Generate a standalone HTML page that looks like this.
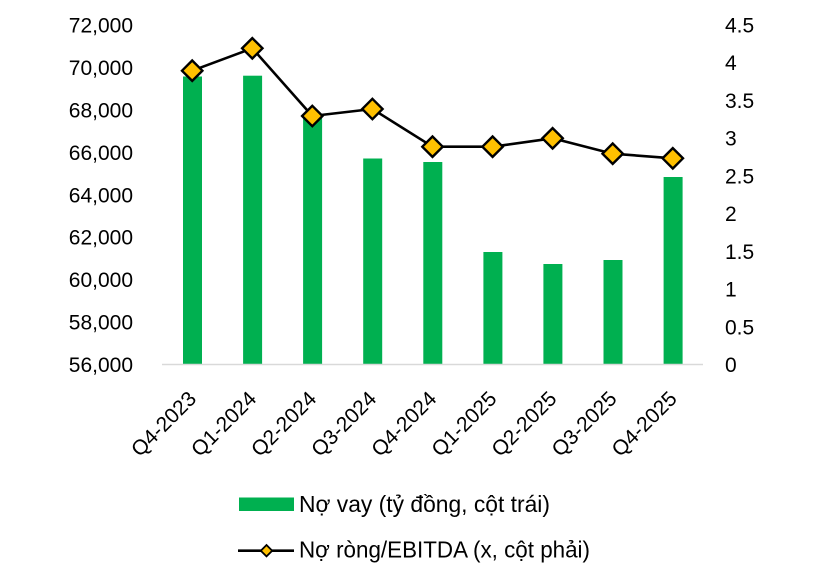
<!DOCTYPE html>
<html>
<head>
<meta charset="utf-8">
<style>
  html, body { margin: 0; padding: 0; background: #ffffff; }
  svg { display: block; }
  text { font-family: "Liberation Sans", "Noto Sans CJK SC", sans-serif; fill: #000; }
</style>
</head>
<body>
<svg width="827" height="574" viewBox="0 0 827 574" xmlns="http://www.w3.org/2000/svg">
  <rect x="0" y="0" width="827" height="574" fill="#ffffff"/>

  <!-- Left axis labels -->
  <g font-size="21" text-anchor="end">
    <text x="133" y="32.5">72,000</text>
    <text x="133" y="74.9">70,000</text>
    <text x="133" y="117.4">68,000</text>
    <text x="133" y="159.8">66,000</text>
    <text x="133" y="202.3">64,000</text>
    <text x="133" y="244.7">62,000</text>
    <text x="133" y="287.1">60,000</text>
    <text x="133" y="329.6">58,000</text>
    <text x="133" y="372.0">56,000</text>
  </g>

  <!-- Right axis labels -->
  <g font-size="21" text-anchor="start">
    <text x="725" y="32.5">4.5</text>
    <text x="725" y="70.2">4</text>
    <text x="725" y="107.9">3.5</text>
    <text x="725" y="145.7">3</text>
    <text x="725" y="183.4">2.5</text>
    <text x="725" y="221.1">2</text>
    <text x="725" y="258.8">1.5</text>
    <text x="725" y="296.5">1</text>
    <text x="725" y="334.3">0.5</text>
    <text x="725" y="372.0">0</text>
  </g>

  <!-- Bars -->
  <g fill="#00B050">
    <rect x="183" y="76.5" width="19" height="288"/>
    <rect x="243.1" y="75.7" width="19" height="288.8"/>
    <rect x="303.1" y="118" width="19" height="246.5"/>
    <rect x="363.2" y="158.5" width="19" height="206"/>
    <rect x="423.3" y="162" width="19" height="202.5"/>
    <rect x="483.4" y="252" width="19" height="112.5"/>
    <rect x="543.4" y="264" width="19" height="100.5"/>
    <rect x="603.5" y="260" width="19" height="104.5"/>
    <rect x="663.6" y="177" width="19" height="187.5"/>
  </g>

  <!-- X axis line -->
  <line x1="162" y1="364.5" x2="703" y2="364.5" stroke="#d9d9d9" stroke-width="1.6"/>

  <!-- Line series -->
  <polyline fill="none" stroke="#000" stroke-width="2.6" stroke-linejoin="round"
    points="192.2,70.7 252.3,48.3 312.3,116 372.4,109 432.5,146.7 492.6,146.7 552.6,138.3 612.7,153.7 672.8,158.3"/>
  <g fill="#FFC000" stroke="#000" stroke-width="2.4" stroke-linejoin="miter">
    <polygon points="192.2,60.5 202.4,70.7 192.2,80.9 182,70.7"/>
    <polygon points="252.3,38.1 262.5,48.3 252.3,58.5 242.1,48.3"/>
    <polygon points="312.3,105.8 322.5,116 312.3,126.2 302.1,116"/>
    <polygon points="372.4,98.8 382.6,109 372.4,119.2 362.2,109"/>
    <polygon points="432.5,136.5 442.7,146.7 432.5,156.9 422.3,146.7"/>
    <polygon points="492.6,136.5 502.8,146.7 492.6,156.9 482.4,146.7"/>
    <polygon points="552.6,128.1 562.8,138.3 552.6,148.5 542.4,138.3"/>
    <polygon points="612.7,143.5 622.9,153.7 612.7,163.9 602.5,153.7"/>
    <polygon points="672.8,148.1 683,158.3 672.8,168.5 662.6,158.3"/>
  </g>

  <!-- X labels -->
  <g font-size="21" text-anchor="end">
    <text transform="translate(197.5,400) rotate(-45)">Q4-2023</text>
    <text transform="translate(257.6,400) rotate(-45)">Q1-2024</text>
    <text transform="translate(317.6,400) rotate(-45)">Q2-2024</text>
    <text transform="translate(377.7,400) rotate(-45)">Q3-2024</text>
    <text transform="translate(437.8,400) rotate(-45)">Q4-2024</text>
    <text transform="translate(497.9,400) rotate(-45)">Q1-2025</text>
    <text transform="translate(557.9,400) rotate(-45)">Q2-2025</text>
    <text transform="translate(618,400) rotate(-45)">Q3-2025</text>
    <text transform="translate(678.1,400) rotate(-45)">Q4-2025</text>
  </g>

  <!-- Legend -->
  <rect x="239" y="497.5" width="55" height="13.5" fill="#00B050"/>
  <text x="299" y="512" font-size="23" textLength="251" lengthAdjust="spacingAndGlyphs">Nợ vay (tỷ đồng, cột trái)</text>

  <line x1="238" y1="550.7" x2="294" y2="550.7" stroke="#000" stroke-width="2.6"/>
  <polygon points="266.5,545 272.2,550.7 266.5,556.4 260.8,550.7" fill="#FFC000" stroke="#000" stroke-width="1.8"/>
  <text x="299" y="557.5" font-size="23" textLength="291" lengthAdjust="spacingAndGlyphs">Nợ ròng/EBITDA (x, cột phải)</text>
</svg>
</body>
</html>
